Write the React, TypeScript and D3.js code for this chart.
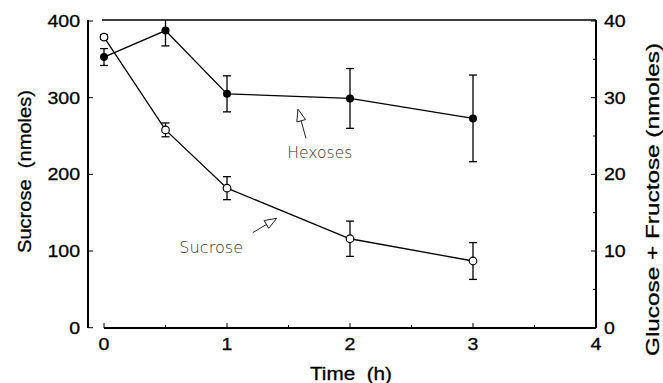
import React from "react";
import * as d3 from "d3";

// Time course (h)
const times = [0, 0.5, 1, 2, 3];
// Sucrose remaining (nmoles), left axis
const sucrose = [379, 258, 182, 116, 87];
const sucroseErr = [3, 9, 15, 23, 24];
// Glucose + fructose (nmoles), right axis
const hexoses = [35.3, 38.75, 30.5, 29.9, 27.3];
const hexosesErr = [1.1, 2.0, 2.35, 3.9, 5.65];

const xTicks = [0, 1, 2, 3, 4];
const xMinorTicks = [0.5, 1.5, 2.5, 3.5];
const leftTicks = [0, 100, 200, 300, 400];
const rightTicks = [0, 10, 20, 30, 40];
const rightMinorTicks = [5, 15, 25, 35];

const W = 663;
const H = 383;
const font = "'Liberation Sans', Arial, Helvetica, sans-serif";

export default function App() {
  const x = d3.scaleLinear().domain([0, 4]).range([104, 596]);
  const yL = d3.scaleLinear().domain([0, 400]).range([327.7, 21]);
  const yR = d3.scaleLinear().domain([0, 40]).range([327.7, 21]);
  const top = 20;
  const bottom = 328;
  const leftX = 88;
  const rightX = 596;

  const line = (ys: number[], sc: d3.ScaleLinear<number, number>) =>
    d3
      .line<number>()
      .x((_, i) => x(times[i]))
      .y((d) => sc(d))(ys) || "";

  const errBars = (ys: number[], es: number[], sc: d3.ScaleLinear<number, number>) =>
    ys.map((v, i) => {
      const cx = x(times[i]);
      const y1 = sc(v + es[i]);
      const y2 = sc(v - es[i]);
      const y1c = Math.max(y1, top);
      return (
        <g key={i} stroke="#000" strokeWidth={1.3}>
          <line x1={cx} x2={cx} y1={y1c} y2={y2} />
          {y1 >= top && <line x1={cx - 4} x2={cx + 4} y1={y1} y2={y1} />}
          <line x1={cx - 4} x2={cx + 4} y1={y2} y2={y2} />
        </g>
      );
    });

  // hollow-headed annotation arrow
  const arrow = (x1: number, y1: number, x2: number, y2: number) => {
    const ang = Math.atan2(y2 - y1, x2 - x1);
    const len = 12;
    const hw = 4.5;
    const bx = x2 - len * Math.cos(ang);
    const by = y2 - len * Math.sin(ang);
    const px = -Math.sin(ang) * hw;
    const py = Math.cos(ang) * hw;
    return (
      <g stroke="#222" strokeWidth={1} fill="#fff">
        <line x1={x1} y1={y1} x2={bx} y2={by} />
        <path d={`M${x2},${y2}L${bx + px},${by + py}L${bx - px},${by - py}Z`} />
      </g>
    );
  };

  const heavy = { stroke: "#000", strokeWidth: 0.3 };
  const pre = { whiteSpace: "pre" as const };

  return (
    <svg
      width={W}
      height={H}
      style={{ position: "absolute", left: 0, top: 0, background: "#fff" }}
      fontFamily={font}
    >
      <rect width={W} height={H} fill="#fff" />
      {/* frame */}
      <g stroke="#000" fill="none">
        <line x1={leftX} x2={leftX} y1={top} y2={bottom} strokeWidth={2} />
        <line x1={102} x2={rightX} y1={top} y2={top} strokeWidth={1.6} />
        <line x1={rightX} x2={rightX} y1={top} y2={bottom} strokeWidth={2} />
        <line x1={104} x2={rightX} y1={bottom} y2={bottom} strokeWidth={2} />
      </g>

      {/* left axis */}
      {leftTicks.map((t) => (
        <g key={"l" + t}>
          <line x1={leftX} x2={leftX + 5} y1={yL(t)} y2={yL(t)} stroke="#000" strokeWidth={1} />
          <text
            transform={`translate(80,${yL(t) + 6}) scale(1.15,1)`}
            textAnchor="end"
            fontSize={17}
            {...heavy}
          >
            {t}
          </text>
        </g>
      ))}

      {/* right axis */}
      {rightTicks.map((t) => (
        <g key={"r" + t}>
          <line x1={rightX - 5} x2={rightX} y1={yR(t)} y2={yR(t)} stroke="#000" strokeWidth={1} />
          <text transform={`translate(604,${yR(t) + 6}) scale(1.15,1)`} fontSize={17} {...heavy}>
            {t}
          </text>
        </g>
      ))}
      {rightMinorTicks.map((t) => (
        <line key={"rm" + t} x1={rightX - 3} x2={rightX} y1={yR(t)} y2={yR(t)} stroke="#000" strokeWidth={1} />
      ))}

      {/* time axis */}
      {xTicks.map((t) => (
        <g key={"x" + t}>
          <line x1={x(t)} x2={x(t)} y1={bottom} y2={bottom - 5} stroke="#000" strokeWidth={1} />
          <text
            transform={`translate(${x(t)},350) scale(1.15,1)`}
            textAnchor="middle"
            fontSize={17}
            {...heavy}
          >
            {t}
          </text>
        </g>
      ))}
      {xMinorTicks.map((t) => (
        <line key={"xm" + t} x1={x(t)} x2={x(t)} y1={bottom} y2={bottom - 3} stroke="#000" strokeWidth={1} />
      ))}

      {/* axis titles */}
      <text
        transform="translate(31,171.5) rotate(-90)"
        textAnchor="middle"
        fontSize={18}
        textLength={163}
        lengthAdjust="spacingAndGlyphs"
        style={pre}
        {...heavy}
      >
        {"Sucrose  (nmoles)"}
      </text>
      <text
        transform="translate(659,199.5) rotate(-90)"
        textAnchor="middle"
        fontSize={19}
        textLength={313}
        lengthAdjust="spacingAndGlyphs"
        {...heavy}
      >
        Glucose + Fructose (nmoles)
      </text>
      <text
        x={351}
        y={380}
        textAnchor="middle"
        fontSize={18}
        textLength={82}
        lengthAdjust="spacingAndGlyphs"
        style={pre}
        {...heavy}
      >
        {"Time  (h)"}
      </text>

      {/* hexoses series */}
      <path d={line(hexoses, yR)} fill="none" stroke="#000" strokeWidth={1.3} />
      {errBars(hexoses, hexosesErr, yR)}
      {hexoses.map((v, i) => (
        <circle key={"h" + i} cx={x(times[i])} cy={yR(v)} r={4} fill="#000" />
      ))}

      {/* sucrose series */}
      <path d={line(sucrose, yL)} fill="none" stroke="#000" strokeWidth={1.3} />
      {errBars(sucrose, sucroseErr, yL)}
      {sucrose.map((v, i) => (
        <circle key={"s" + i} cx={x(times[i])} cy={yL(v)} r={3.8} fill="#fff" stroke="#000" strokeWidth={1.2} />
      ))}

      {/* series annotations */}
      {arrow(x(1.642), yR(24.7), x(1.577), yR(28.5))}
      <text
        x={x(1.755)}
        y={yR(22.1)}
        textAnchor="middle"
        fontSize={15}
        fill="#333"
        fontFamily="'DejaVu Sans', sans-serif"
        fontWeight={200}
        textLength={65}
        lengthAdjust="spacingAndGlyphs"
      >
        Hexoses
      </text>
      {arrow(x(1.209), yL(123.9), x(1.404), yL(142.7))}
      <text
        x={x(0.872)}
        y={yL(97.4)}
        textAnchor="middle"
        fontSize={15}
        fill="#333"
        fontFamily="'DejaVu Sans', sans-serif"
        fontWeight={200}
        textLength={64}
        lengthAdjust="spacingAndGlyphs"
      >
        Sucrose
      </text>
    </svg>
  );
}
